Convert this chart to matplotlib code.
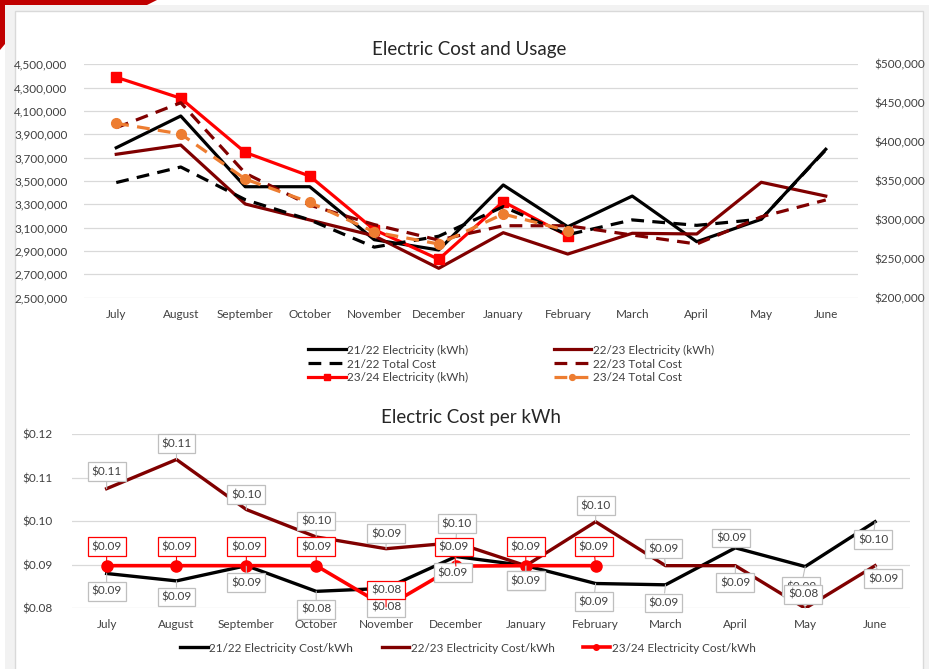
import matplotlib
matplotlib.use('Agg')
import matplotlib.pyplot as plt
from matplotlib.patches import Rectangle, Polygon
from matplotlib.ticker import FuncFormatter

plt.rcParams['font.family'] = ['Lato', 'DejaVu Sans']

# Data
months = ['July', 'August', 'September', 'October', 'November', 'December',
          'January', 'February', 'March', 'April', 'May', 'June']

kwh_2122 = [3785000, 4057000, 3451000, 3451000, 2997000, 2909000,
            3466000, 3108000, 3371000, 2980000, 3172000, 3772000]
kwh_2223 = [3729000, 3808000, 3303000, 3166000, 3030000, 2752000,
            3057000, 2874000, 3052000, 3046000, 3489000, 3371000]
kwh_2324 = [4389000, 4209000, 3745000, 3542000, 3083000, 2829000,
            3323000, 3029000]

cost_2122 = [348000, 368000, 326000, 300000, 265000, 279000,
             317000, 281000, 300000, 293000, 301000, 390000]
cost_2223 = [418500, 450600, 360000, 319000, 294000, 274000,
             292500, 292500, 280600, 269000, 304000, 325600]
cost_2324 = [424200, 410400, 352500, 322500, 284500, 269000,
             307600, 286100]

cpk_2122 = [0.0880, 0.0863, 0.0898, 0.0839, 0.0846, 0.0919,
            0.0898, 0.0857, 0.0854, 0.0939, 0.0896, 0.0999]
cpk_2223 = [0.1075, 0.1142, 0.1027, 0.0964, 0.0937, 0.0951,
            0.0898, 0.0999, 0.0898, 0.0898, 0.0800, 0.0898]
cpk_2324 = [0.0898, 0.0898, 0.0898, 0.0898, 0.0803, 0.0897,
            0.0898, 0.0898]

# label offsets (pixels) for the data callouts
off_2122 = [(0, -18), (0, -16), (0, -17), (0, -18), (0, -19), (-3, -16),
            (0, -15), (-2, -18), (-2, -18), (-4, 10), (-4, -20), (-2, -18)]
off_2223 = [(0, 17), (0, 16), (0, 15), (0, 16), (0, 15), (1, 19),
            (0, -15), (0, 16), (-2, 17), (0, -17), (-2, 14), (8, -13)]
off_2324 = [(0, 19), (0, 19), (0, 19), (0, 19), (0, 17), (-2, 19),
            (0, 19), (-2, 19)]

W, H = 932, 669
fig = plt.figure(figsize=(W / 100, H / 100), dpi=100)


def fx(px):
    return px / W


def fy(py):
    return 1 - py / H


# page frame
fig.add_artist(Rectangle((fx(5), 0), fx(924), fy(5), transform=fig.transFigure,
                         facecolor='#f2f2f2', edgecolor='none', zorder=0))
fig.add_artist(Rectangle((fx(15), fy(675)), fx(908), (675 - 11) / H,
                         transform=fig.transFigure, facecolor='white',
                         edgecolor='#d9d9d9', lw=1, zorder=0))
fig.add_artist(Polygon([(fx(0), fy(0)), (fx(157), fy(0)), (fx(147), fy(5)),
                        (fx(5), fy(5)), (fx(5), fy(44)), (fx(0), fy(50))],
                       closed=True, transform=fig.transFigure,
                       facecolor='#c00000', edgecolor='none', zorder=1))

text_col = '#404040'
grid_col = '#d9d9d9'
x = list(range(len(months)))

# ---------- top chart ----------
ax = fig.add_axes([fx(84), fy(297.7), fx(858 - 84), (297.7 - 64.3) / H])
ax2 = ax.twinx()
for a in (ax, ax2):
    a.patch.set_visible(False)
    for s in a.spines.values():
        s.set_visible(False)
    a.tick_params(length=0, labelsize=8.5, labelcolor=text_col)

dash = (4, 2.6)
l1, = ax.plot(x, kwh_2122, color='black', lw=2.3, label='21/22 Electricity (kWh)')
l4, = ax.plot(x, kwh_2223, color='#800000', lw=2.3, label='22/23 Electricity (kWh)')
l3, = ax.plot(x[:len(kwh_2324)], kwh_2324, color='#ff0000', lw=2.3, marker='s',
              ms=7, label='23/24 Electricity (kWh)')
l2, = ax2.plot(x, cost_2122, color='black', lw=2.3, dashes=dash, label='21/22 Total Cost')
l5, = ax2.plot(x, cost_2223, color='#800000', lw=2.3, dashes=dash, label='22/23 Total Cost')
l6, = ax2.plot(x[:len(cost_2324)], cost_2324, color='#ed7d31', lw=2.3, dashes=dash,
               marker='o', ms=7, label='23/24 Total Cost')

ax.set_xlim(-0.5, len(months) - 0.5)
ax.set_ylim(2500000, 4500000)
ax.set_yticks(range(2500000, 4500001, 200000))
ax.yaxis.set_major_formatter(FuncFormatter(lambda v, p: f'{v:,.0f}'))
ax2.set_ylim(200000, 500000)
ax2.set_yticks(range(200000, 500001, 50000))
ax2.yaxis.set_major_formatter(FuncFormatter(lambda v, p: f'${v:,.0f}'))
ax.set_xticks(x)
ax.set_xticklabels(months)
ax.tick_params(axis='x', pad=8)
ax.tick_params(axis='y', pad=12)
ax2.tick_params(axis='y', pad=12)
ax.grid(axis='y', color=grid_col, lw=0.9)
ax.set_axisbelow(True)

fig.text(fx(469), fy(50), 'Electric Cost and Usage', ha='center', va='center',
         fontsize=13.5, color='#262626')

leg = ax.legend(handles=[l1, l2, l3, l4, l5, l6], ncol=2, loc='center',
                bbox_to_anchor=(fx(511), fy(364)), bbox_transform=fig.transFigure,
                frameon=False, fontsize=8.5, handlelength=3.2, handletextpad=0.15,
                columnspacing=7.2, labelspacing=0.25, labelcolor=text_col,
                markerscale=0.6)

# ---------- bottom chart ----------
bx = fig.add_axes([fx(71.7), fy(608.3), fx(910 - 71.7), (608.3 - 434.3) / H])
for s in bx.spines.values():
    s.set_visible(False)
bx.tick_params(length=0, labelsize=8.5, labelcolor=text_col)

b1, = bx.plot(x, cpk_2122, color='black', lw=2.4, label='21/22 Electricity Cost/kWh', zorder=3)
b2, = bx.plot(x, cpk_2223, color='#800000', lw=2.4, label='22/23 Electricity Cost/kWh', zorder=3)
b3, = bx.plot(x[:len(cpk_2324)], cpk_2324, color='#ff0000', lw=2.6, marker='o', ms=8,
              label='23/24 Electricity Cost/kWh', zorder=3)

bx.set_xlim(-0.5, len(months) - 0.5)
bx.set_ylim(0.08, 0.12)
bx.set_yticks([0.08, 0.09, 0.10, 0.11, 0.12])
bx.yaxis.set_major_formatter(FuncFormatter(lambda v, p: f'${v:.2f}'))
bx.set_xticks(x)
bx.set_xticklabels(months)
bx.tick_params(axis='x', pad=8)
bx.tick_params(axis='y', pad=14)
bx.grid(axis='y', color=grid_col, lw=0.9)
bx.set_axisbelow(True)


def callouts(vals, offs, edge):
    for i, (v, o) in enumerate(zip(vals, offs)):
        bx.annotate(f'${v:.2f}', xy=(i, v), xytext=o, textcoords='offset pixels',
                    ha='center', va='center', fontsize=8.5, color=text_col, zorder=6,
                    bbox=dict(boxstyle='square,pad=0.32', fc='white', ec=edge, lw=0.9),
                    arrowprops=dict(arrowstyle='-', color=edge, lw=0.8,
                                    shrinkA=0, shrinkB=0),
                    annotation_clip=False)


callouts(cpk_2122, off_2122, '#bfbfbf')
callouts(cpk_2223, off_2223, '#bfbfbf')
callouts(cpk_2324, off_2324, '#ff0000')

fig.text(fx(471), fy(418), 'Electric Cost per kWh', ha='center', va='center',
         fontsize=13.5, color='#262626')

bx.legend(handles=[b1, b2, b3], ncol=3, loc='center',
          bbox_to_anchor=(fx(468), fy(648)), bbox_transform=fig.transFigure,
          frameon=False, fontsize=8.5, handlelength=2.3, handletextpad=0.15,
          columnspacing=2.4, labelcolor=text_col, markerscale=0.5)

fig.savefig('out.png', dpi=100)
